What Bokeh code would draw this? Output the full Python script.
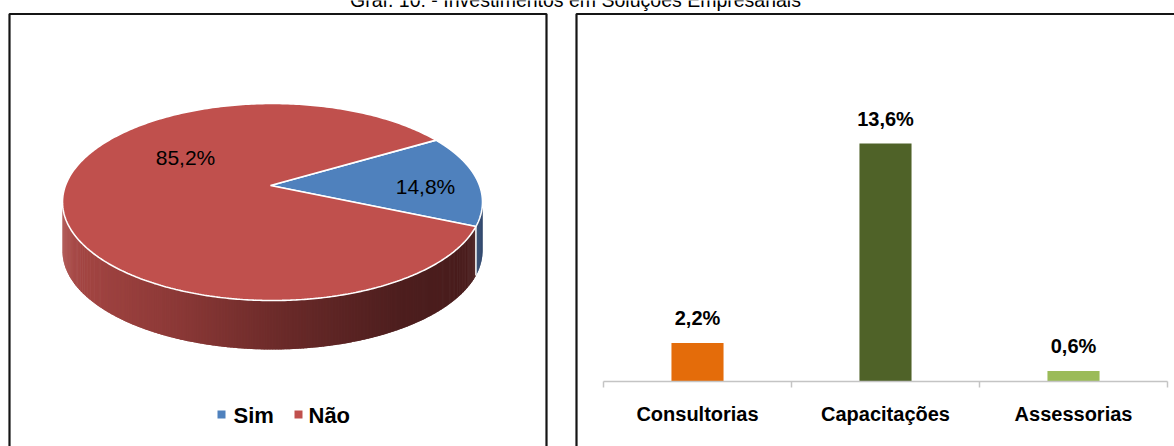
import numpy as np
from bokeh.plotting import figure
from bokeh.models import Range1d
from bokeh.core.properties import value
from bokeh.embed import file_html
from bokeh.resources import INLINE

# ---------------- data ----------------
title_text = "Graf. 10: - Investimentos em Soluções Empresariais"

pie_labels = ["Sim", "Não"]
pie_values = [14.8, 85.2]
pie_colors = ["#4F81BD", "#C0504D"]

bar_categories = ["Consultorias", "Capacitações", "Assessorias"]
bar_values = [2.2, 13.6, 0.6]
bar_colors = ["#E46C0A", "#4F6228", "#9BBB59"]


def fmt(v):
    return f"{v:.1f}%".replace(".", ",")


# ---------------- figure (page-pixel coordinates) ----------------
W, H = 1174, 446
X0 = 0
FONT = "Liberation Sans"
TXT_SHIFT = -7  # text placement correction (px)

p = figure(width=W, height=H, x_range=Range1d(X0, X0 + W), y_range=Range1d(H, 0),
           output_backend="svg", toolbar_location=None,
           x_axis_location=None, y_axis_location=None, min_border=0,
           outline_line_color=None)
p.grid.visible = False
p.background_fill_color = "white"
p.border_fill_color = "white"

# title (partly cut at the top as in the original)
p.text(x=[575], y=[6], text=[title_text], y_offset=TXT_SHIFT, text_font=value(FONT),
       text_font_size="19.5px", text_align="center", text_baseline="alphabetic",
       text_color="#000000")

# panel frames
p.multi_line(xs=[[9, 9, 546, 546], [576, 576, 1200]],
             ys=[[470, 13.5, 13.5, 470], [470, 13.5, 13.5]],
             line_color="#151515", line_width=2.2)

# ---------------- 3D pie ----------------
cx, cy, rx, ry, depth = 272.0, 201.5, 210.0, 98.5, 49.0
apx, apy = 270.0, 185.0
start_deg = 38.9
fr = np.array(pie_values, dtype=float) / sum(pie_values)
bounds = start_deg - 360.0 * np.concatenate([[0.0], np.cumsum(fr)])


def ept(t_deg):
    t = np.radians(t_deg)
    return cx + rx * np.cos(t), cy - ry * np.sin(t)


# side of the pie (front half), with horizontal shading
grad_x = [62, 170, 290, 400, 482]
grad_r = [168, 142, 105, 78, 72]
grad_g = [72, 58, 42, 31, 28]
grad_b = [69, 56, 41, 31, 28]
blue_side = "#1F3B63"

sxs, sys_, scol = [], [], []
for i in range(len(pie_values)):
    ts = np.linspace(bounds[i + 1], bounds[i], 721)
    step = ts[1] - ts[0]
    keep = np.sin(np.radians(ts)) <= 1e-9
    idx = np.where(keep)[0]
    for a, b in zip(idx[:-1], idx[1:]):
        if b != a + 1:
            continue
        ta, tb = ts[a], min(ts[b] + 0.8 * step, ts[idx[-1]])
        tt = np.array([ta, tb])
        xx, yy = ept(tt)
        sxs.append([xx[0], xx[1], xx[1], xx[0]])
        sys_.append([yy[0], yy[1], yy[1] + depth, yy[0] + depth])
        if i == 0:
            scol.append(blue_side)
        else:
            xm = 0.5 * (xx[0] + xx[1])
            r = int(np.interp(xm, grad_x, grad_r))
            g = int(np.interp(xm, grad_x, grad_g))
            bb = int(np.interp(xm, grad_x, grad_b))
            scol.append(f"#{r:02x}{g:02x}{bb:02x}")
p.patches(xs=sxs, ys=sys_, fill_color=scol, line_color=None)

# white edge between blue and red side
for bd in bounds:
    if np.sin(np.radians(bd)) < 0:
        x0, y0 = ept(bd)
        p.segment(x0=[x0], y0=[y0], x1=[x0], y1=[y0 + depth],
                  line_color="white", line_width=1.5)

# top surface wedges
txs, tys = [], []
for i in range(len(pie_values)):
    ts = np.linspace(bounds[i], bounds[i + 1], 400)
    x, y = ept(ts)
    txs.append([apx] + list(x))
    tys.append([apy] + list(y))
p.patches(xs=txs, ys=tys, fill_color=pie_colors, line_color="white",
          line_width=1.6)

# data labels
pie_lab_x = [425, 185]
pie_lab_y = [193, 164]
p.text(x=pie_lab_x, y=pie_lab_y, text=[fmt(v) for v in pie_values],
       y_offset=TXT_SHIFT, text_font=value(FONT), text_font_size="21px",
       text_align="center", text_baseline="alphabetic", text_color="#000000")

# legend
leg_mx = [221, 298]
leg_tx = [233, 308]
p.scatter(x=leg_mx, y=[414, 414], marker="square", size=8,
          fill_color=pie_colors, line_color=None)
p.text(x=leg_tx, y=[422, 422], text=pie_labels, y_offset=TXT_SHIFT,
       text_font=value(FONT), text_font_size="22px", text_font_style="bold",
       text_align="left", text_baseline="alphabetic", text_color="#000000")

# ---------------- bar chart (own scales) ----------------
slot_px, first_center_px = 188.0, 697.0
base_px, px_per_unit = 381.0, 17.5
p.extra_x_ranges = {"bx": Range1d(start=(X0 - first_center_px) / slot_px,
                                  end=(X0 + W - first_center_px) / slot_px)}
p.extra_y_ranges = {"by": Range1d(start=(base_px - H) / px_per_unit,
                                  end=base_px / px_per_unit)}
bx = list(range(len(bar_categories)))
p.vbar(x=bx, top=bar_values, bottom=0, width=0.277, fill_color=bar_colors,
       line_color=None, x_range_name="bx", y_range_name="by")

# category axis
n = len(bar_categories)
tick_len = 6.0 / px_per_unit
p.segment(x0=[-0.5], y0=[0], x1=[n - 0.5], y1=[0], line_color="#C4C4C4",
          line_width=1.5, x_range_name="bx", y_range_name="by")
tx = [k - 0.5 for k in range(n + 1)]
p.segment(x0=tx, y0=[0] * len(tx), x1=tx, y1=[-tick_len] * len(tx),
          line_color="#C4C4C4", line_width=1.5, x_range_name="bx",
          y_range_name="by")
p.text(x=bx, y=[0] * n, text=bar_categories, y_offset=39 + TXT_SHIFT,
       text_font=value(FONT), text_font_size="20px", text_font_style="bold",
       text_align="center", text_baseline="alphabetic", text_color="#000000",
       x_range_name="bx", y_range_name="by")

# value labels
p.text(x=bx, y=bar_values, text=[fmt(v) for v in bar_values],
       y_offset=-18 + TXT_SHIFT,
       text_font=value(FONT), text_font_size="20px", text_font_style="bold",
       text_align="center", text_baseline="alphabetic", text_color="#000000",
       x_range_name="bx", y_range_name="by")

open("out.html", "w").write(file_html(p, INLINE))
